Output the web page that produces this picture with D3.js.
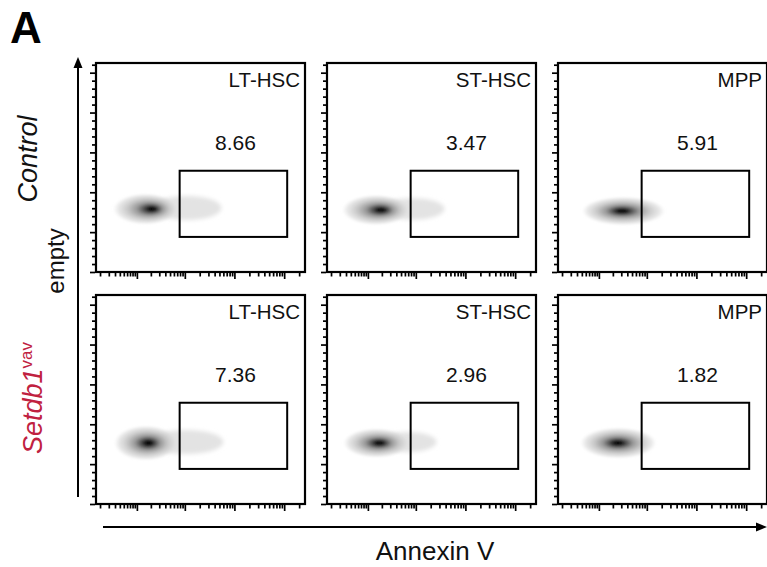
<!DOCTYPE html>
<html><head><meta charset="utf-8">
<script src="https://cdn.jsdelivr.net/npm/d3@7"></script>
<style>html,body{margin:0;padding:0;background:#fff;} svg{display:block;font-family:"Liberation Sans",Arial,sans-serif;}</style>
</head><body><svg id="chart" width="767" height="567"></svg>
<script>
// ---- data ----
const cellTypes = ["LT-HSC", "ST-HSC", "MPP"];
const groups = ["Control", "Setdb1"];
const groupSup = ["", "vav"];
const percentages = [[8.66, 3.47, 5.91], [7.36, 2.96, 1.82]];
const gateAnnexin = [785, 115000];
const gateY = [44000, 127000];
// population (density) description, per row / column
const coreAnnexin = [[219, 199, 307], [181, 181, 253]];
const coreY = [[79000, 77800, 76500], [76500, 76500, 76500]];
const popLeftAnnexin = [[26, 23, 40], [28, 25, 36]];
const popRightAnnexin = [[715, 749, 2393], [715, 749, 1577]];
const popHalfHeightY = [[19500, 19000, 18000], [22000, 18500, 19500]];
const tailEndAnnexin = [[5490, 3795, null], [6020, 2625, null]];
const tailHalfHeightY = [[15000, 13500, null], [15000, 12500, null]];
// axis ticks
const xMajorTicks = [100, 1000, 10000, 100000];
const xMinorTicks = [10, 20, 30, 40, 50, 60, 70, 80, 90,
  200, 300, 400, 500, 600, 700, 800, 900,
  2000, 3000, 4000, 5000, 6000, 7000, 8000, 9000,
  20000, 30000, 40000, 50000, 60000, 70000, 80000, 90000, 200000];
const yMajorTicks = [0, 50000, 100000, 150000, 200000, 250000];
const yMinorTicks = [10000, 20000, 30000, 40000, 60000, 70000, 80000, 90000,
  110000, 120000, 130000, 140000, 160000, 170000, 180000, 190000,
  210000, 220000, 230000, 240000, 260000];
const xAxisLabel = "Annexin V";
const yAxisLabel = "empty";
const panelLetter = "A";

// ---- layout ----
const svg = d3.select("#chart");
const P = 209;
const colX = [96, 327, 558];
const rowY = [63, 295];

const x = d3.scaleSymlog().constant(10).domain([6.6, 262144]).range([0, P]);
const y = d3.scaleLinear().domain([0, 262144]).range([P, 0]);

const defs = svg.append("defs");
defs.append("filter").attr("id", "blurHalo").attr("x", "-30%").attr("y", "-50%").attr("width", "160%").attr("height", "200%")
  .append("feGaussianBlur").attr("stdDeviation", 1.3);
defs.append("filter").attr("id", "blurTail").attr("x", "-30%").attr("y", "-60%").attr("width", "160%").attr("height", "220%")
  .append("feGaussianBlur").attr("stdDeviation", 2.2);

const stops = [
  [0, "#000", 1], [0.1, "#111", 1], [0.22, "#4a4a4a", 0.97], [0.4, "#8e8e8e", 0.9],
  [0.62, "#bdbdbd", 0.85], [0.85, "#d6d6d6", 0.6], [1, "#e4e4e4", 0]
];

groups.forEach((grp, r) => {
  cellTypes.forEach((ct, c) => {
    const g = svg.append("g").attr("transform", `translate(${colX[c]},${rowY[r]})`);
    // tail
    if (tailEndAnnexin[r][c] !== null) {
      const x0 = x(coreAnnexin[r][c]), x1 = x(tailEndAnnexin[r][c]);
      g.append("ellipse")
        .attr("cx", (x0 + x1) / 2).attr("cy", y(coreY[r][c]) - 1)
        .attr("rx", (x1 - x0) / 2).attr("ry", y(0) - y(tailHalfHeightY[r][c]))
        .attr("fill", "#e3e3e3").attr("filter", "url(#blurTail)");
    }
    // main population
    const l = x(popLeftAnnexin[r][c]), rr = x(popRightAnnexin[r][c]), cx0 = x(coreAnnexin[r][c]);
    const gid = `grad${r}${c}`;
    const grad = defs.append("radialGradient").attr("id", gid)
      .attr("cx", 0.5).attr("cy", 0.5).attr("r", 0.5)
      .attr("fx", (cx0 - l) / (rr - l)).attr("fy", 0.5);
    stops.forEach(s => grad.append("stop").attr("offset", s[0]).attr("stop-color", s[1]).attr("stop-opacity", s[2]));
    g.append("ellipse")
      .attr("cx", (l + rr) / 2).attr("cy", y(coreY[r][c]))
      .attr("rx", (rr - l) / 2).attr("ry", y(0) - y(popHalfHeightY[r][c]))
      .attr("fill", `url(#${gid})`).attr("filter", "url(#blurHalo)");

    // gate
    g.append("rect")
      .attr("x", x(gateAnnexin[0])).attr("y", y(gateY[1]))
      .attr("width", x(gateAnnexin[1]) - x(gateAnnexin[0]))
      .attr("height", y(gateY[0]) - y(gateY[1]))
      .attr("fill", "none").attr("stroke", "#000").attr("stroke-width", 2);
    g.append("text")
      .attr("x", (x(gateAnnexin[0]) + x(gateAnnexin[1])) / 2 + 2)
      .attr("y", y(gateY[1]) - 21)
      .attr("text-anchor", "middle").attr("font-size", 21).attr("fill", "#111")
      .text(percentages[r][c].toFixed(2));
    g.append("text")
      .attr("x", P - 5).attr("y", 24)
      .attr("text-anchor", "end").attr("font-size", 20.5).attr("fill", "#111")
      .text(ct);

    // axes
    const ax = (sel) => { sel.select(".domain").remove(); sel.selectAll("line").attr("stroke", "#000").attr("stroke-width", 1.7); };
    g.append("g").attr("transform", `translate(0,${P + 1})`)
      .call(d3.axisBottom(x).tickValues(xMajorTicks).tickSize(6).tickFormat("")).call(ax);
    g.append("g").attr("transform", `translate(0,${P + 1})`)
      .call(d3.axisBottom(x).tickValues(xMinorTicks).tickSize(3.5).tickFormat("")).call(ax);
    g.append("g").attr("transform", `translate(-1,0)`)
      .call(d3.axisLeft(y).tickValues(yMajorTicks).tickSize(5).tickFormat("")).call(ax);
    g.append("g").attr("transform", `translate(-1,0)`)
      .call(d3.axisLeft(y).tickValues(yMinorTicks).tickSize(3).tickFormat("")).call(ax);

    // frame
    g.append("rect").attr("x", 0).attr("y", 0).attr("width", P).attr("height", P)
      .attr("fill", "none").attr("stroke", "#000").attr("stroke-width", 2.2);
  });
});

// arrows
svg.append("line").attr("x1", 103).attr("y1", 527).attr("x2", 758).attr("y2", 527)
  .attr("stroke", "#000").attr("stroke-width", 2);
svg.append("path").attr("d", "M767,527 L756,522.5 L756,531.5 Z").attr("fill", "#000");
svg.append("line").attr("x1", 78).attr("y1", 497).attr("x2", 78).attr("y2", 66)
  .attr("stroke", "#000").attr("stroke-width", 2);
svg.append("path").attr("d", "M78,57 L73.5,68 L82.5,68 Z").attr("fill", "#000");

// labels
svg.append("text").attr("x", 10).attr("y", 43).attr("font-size", 44).attr("font-weight", "bold").text(panelLetter);
svg.append("text").attr("x", 435).attr("y", 560).attr("text-anchor", "middle").attr("font-size", 26).attr("fill", "#111").text(xAxisLabel);
svg.append("text").attr("transform", "translate(64,261) rotate(-90)").attr("text-anchor", "middle")
  .attr("font-size", 24).attr("fill", "#111").text(yAxisLabel);
svg.append("text").attr("transform", "translate(37,159) rotate(-90)").attr("text-anchor", "middle")
  .attr("font-size", 27).attr("font-style", "italic").attr("fill", "#111").text(groups[0]);
const t2 = svg.append("text").attr("transform", "translate(42,398) rotate(-90)").attr("text-anchor", "middle")
  .attr("fill", "#c0213f");
t2.append("tspan").attr("font-size", 27).attr("font-style", "italic").text(groups[1]);
t2.append("tspan").attr("font-size", 17).attr("dy", -10).text(groupSup[1]);
</script></body></html>
